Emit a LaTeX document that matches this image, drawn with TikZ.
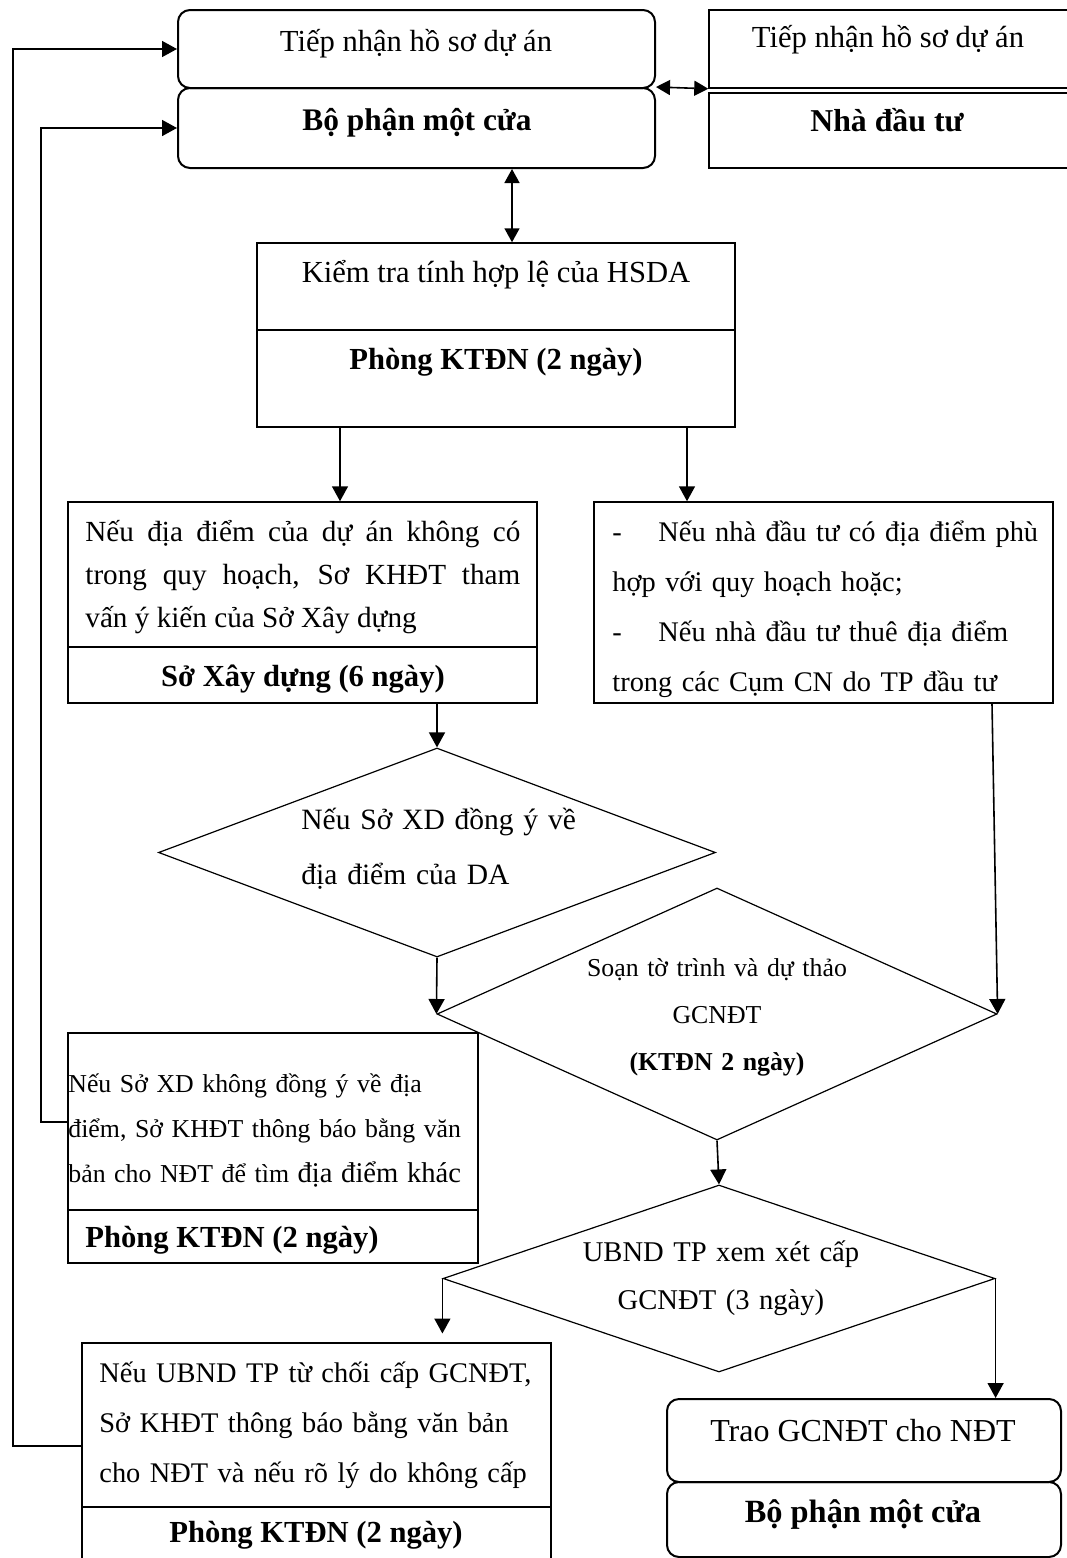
\documentclass[tikz,border=0pt]{standalone}
\usepackage{fontspec}
\setmainfont{Liberation Serif}
\usetikzlibrary{arrows.meta,shapes.geometric,fit}

\newcommand{\nf}{\fontsize{15.3pt}{21.5pt}\selectfont}
\newcommand{\smf}{\fontsize{12.9pt}{22.5pt}\selectfont}

\begin{document}
\begin{tikzpicture}[x=0.5pt,y=-0.5pt,
    cell/.style={draw, line width=0.75pt, inner sep=0pt},
    rcell/.style={cell, line width=1pt, rounded corners=6pt},
    dia/.style 2 args={draw, diamond, line width=0.6pt, inner sep=0pt, minimum width=#1, minimum height=#2},
    arr/.style={-{Triangle[length=7.5pt,width=8pt]}, line width=0.8pt},
    darr/.style={{Triangle[length=7pt,width=7.5pt]}-{Triangle[length=7pt,width=7.5pt]}, line width=0.8pt},
    txt/.style={inner sep=0pt, anchor=base, font=\nf}]
\useasboundingbox (0,0) rectangle (1066,1558);

% boxes
\node[rcell, fit={(178,10) (655,88)}] (tiep) {};
\node[rcell, fit={(178,88) (655,168)}] (bpmc) {};
\node[cell, fit={(709,10) (1075,88)}] (tiepR) {};
\node[cell, fit={(709,93) (1075,168)}] (ndt) {};
\node[cell, fit={(257,243) (735,330)}] (ktra) {};
\node[cell, fit={(257,330) (735,427)}] (ktraP) {};
\node[cell, fit={(68,502) (537,647)}] (ndd) {};
\node[cell, fit={(68,647) (537,703)}] (nddP) {};
\node[cell, fit={(594,502) (1053,703)}] (nnd) {};
\node[cell, fit={(68,1033) (478,1210)}] (kdy) {};
\node[cell, fit={(68,1210) (478,1263)}] (kdyP) {};
\node[cell, fit={(82,1343) (551,1507)}] (tc) {};
\node[cell, fit={(82,1507) (551,1600)}] (tcP) {};
\node[rcell, fit={(667,1399) (1061,1482)}] (trao) {};
\node[rcell, fit={(667,1482) (1061,1557)}] (bpmc2) {};
\node[dia={278.5pt}{104.5pt}] (d1) at (437,852.5) {};
\node[dia={280pt}{126pt}] (d2) at (717,1014) {};
\node[dia={276pt}{93.5pt}] (d3) at (719,1278.5) {};

% texts
\node[txt] (tiepT) at (416,51) {Tiếp nhận hồ sơ dự án};
\node[txt, font=\fontsize{15.7pt}{20pt}\selectfont\bfseries] (bpmcT) at (417,130) {Bộ phận một cửa};
\node[txt] (tiepRT) at (888,47) {Tiếp nhận hồ sơ dự án};
\node[txt, font=\fontsize{15.9pt}{20pt}\selectfont\bfseries] (ndtT) at (887,131) {Nhà đầu tư};
\node[txt] (ktraT) at (496,282) {Kiểm tra tính hợp lệ của HSDA};
\node[txt, font=\nf\bfseries] (ktraPT) at (496,369) {Phòng KTĐN (2 ngày)};
\node[txt, anchor=base west, text width=217.5pt, align=justify, font=\fontsize{14.6pt}{21.5pt}\selectfont] (nddT) at (85,541)
  {Nếu địa điểm của dự án không có\linebreak trong quy hoạch, Sơ KHĐT tham\linebreak vấn ý kiến của Sở Xây dựng};
\node[txt, font=\nf\bfseries] (nddPT) at (303,686) {Sở Xây dựng (6 ngày)};
\node[txt, anchor=base west, text width=240pt, align=left, font=\fontsize{14.2pt}{25pt}\selectfont] (nndT) at (612,541)
  {\makebox[23pt][l]{-}Nếu nhà đầu tư có địa điểm phù\\hợp với quy hoạch hoặc;\\\makebox[23pt][l]{-}Nếu nhà đầu tư thuê địa điểm\\trong các Cụm CN do TP đầu tư};
\node[txt, anchor=base west, text width=160pt, align=left, font=\fontsize{14.75pt}{27.5pt}\selectfont] (d1T) at (301,829)
  {Nếu Sở XD đồng ý về\\địa điểm của DA};
\node[txt, text width=160pt, align=center, font=\fontsize{12.9pt}{23.5pt}\selectfont] (d2T) at (717,976)
  {Soạn tờ trình và dự thảo\\GCNĐT\\\textbf{(KTĐN 2 ngày)}};
\node[txt, anchor=base west, text width=230pt, align=left, font=\smf] (kdyT) at (68,1092)
  {Nếu Sở XD không đồng ý về địa\\điểm, Sở KHĐT thông báo bằng văn\\bản cho NĐT để tìm {\fontsize{14.3pt}{22.5pt}\selectfont địa điểm khác}};
\node[txt, anchor=base west, font=\nf\bfseries] (kdyPT) at (85,1247) {Phòng KTĐN (2 ngày)};
\node[txt, text width=170pt, align=center, font=\fontsize{14.3pt}{24pt}\selectfont] (d3T) at (721,1261)
  {UBND TP xem xét cấp\\GCNĐT (3 ngày)};
\node[txt, anchor=base west, text width=240pt, align=left, font=\fontsize{14.2pt}{25pt}\selectfont] (tcT) at (99,1382)
  {Nếu UBND TP từ chối cấp GCNĐT,\\Sở KHĐT thông báo bằng văn bản\\cho NĐT và nếu rõ lý do không cấp};
\node[txt, font=\nf\bfseries] (tcPT) at (316,1542) {Phòng KTĐN (2 ngày)};
\node[txt, font=\fontsize{16pt}{20pt}\selectfont] (traoT) at (863,1441) {Trao GCNĐT cho NĐT};
\node[txt, font=\fontsize{16.2pt}{20pt}\selectfont\bfseries] (bpmc2T) at (863,1522) {Bộ phận một cửa};

% connectors
\draw[darr] (bpmc.north east) -- (tiepR.south west);
\draw[darr] (bpmc.south -| 512,0) -- (ktra.north -| 512,0);
\draw[arr] (ktraP.south -| 340,0) -- (ndd.north -| 340,0);
\draw[arr] (ktraP.south -| 687,0) -- (nnd.north -| 687,0);
\draw[arr] (nddP.south -| d1.north) -- (d1.north);
\draw[arr] (d1.south) -- (d2.west);
\draw[arr] (nnd.south -| 992,0) -- (d2.east);
\draw[arr] (d2.south) -- (d3.north);
\draw[arr] (d3.west) -- ++(0,55);
\draw[arr] (d3.east) -- (d3.east |- trao.north);
\draw[arr] (kdy.west |- 0,1122) -- ++(-26,0) |- (bpmc.west);
\draw[arr] (tc.west |- 0,1446) -- ++(-68,0) |- (tiep.west);
\end{tikzpicture}
\end{document}
